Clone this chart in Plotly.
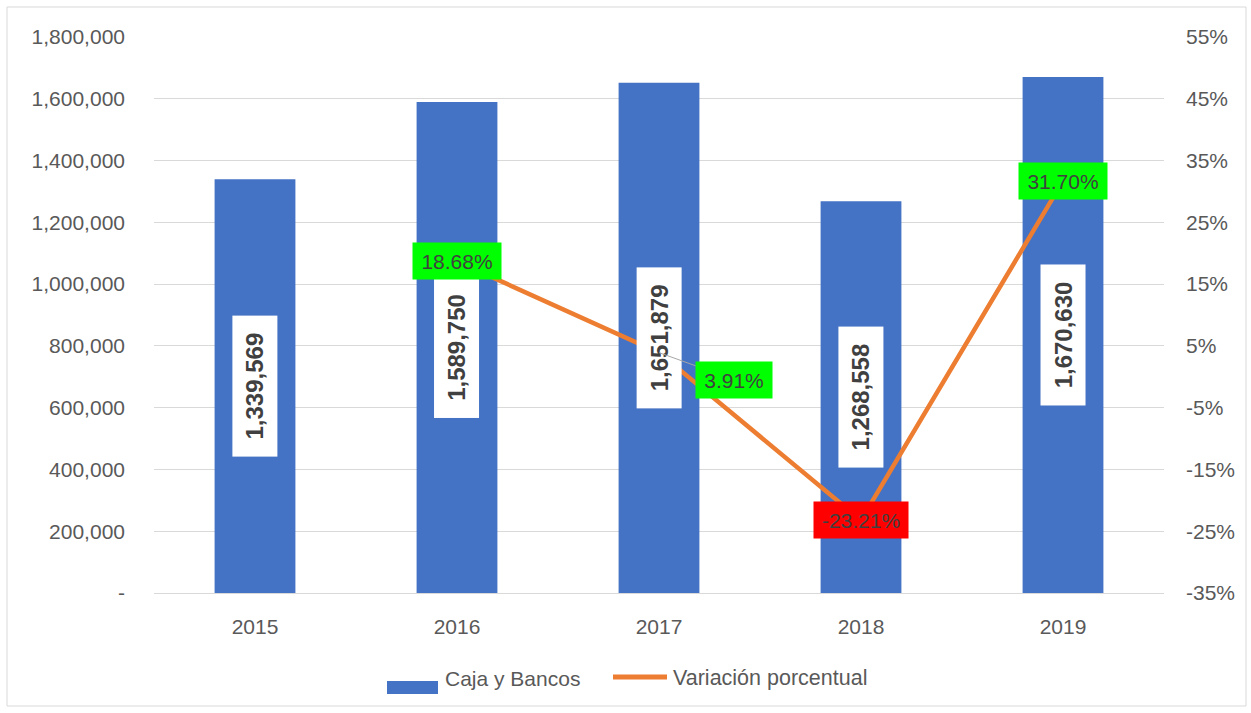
import plotly.graph_objects as go

years = ["2015", "2016", "2017", "2018", "2019"]
caja_bancos = [1339569, 1589750, 1651879, 1268558, 1670630]
bar_labels = ["1,339,569", "1,589,750", "1,651,879", "1,268,558", "1,670,630"]

var_years = ["2016", "2017", "2018", "2019"]
variacion = [18.68, 3.91, -23.21, 31.70]
var_labels = ["18.68%", "3.91%", "-23.21%", "31.70%"]
var_colors = ["#00FF00", "#00FF00", "#FF0000", "#00FF00"]

left_tickvals = [0, 200000, 400000, 600000, 800000, 1000000, 1200000, 1400000, 1600000, 1800000]
left_ticktext = ["-", "200,000", "400,000", "600,000", "800,000", "1,000,000",
                 "1,200,000", "1,400,000", "1,600,000", "1,800,000"]
right_tickvals = [-35, -25, -15, -5, 5, 15, 25, 35, 45, 55]
right_ticktext = ["-35%", "-25%", "-15%", "-5%", "5%", "15%", "25%", "35%", "45%", "55%"]

BLUE = "#4472C4"
ORANGE = "#ED7D31"
GRID = "#D9D9D9"
TXT = "#595959"
FONT = "Liberation Sans, Arial, sans-serif"

fig = go.Figure()
fig.add_trace(go.Bar(x=years, y=caja_bancos, name="Caja y Bancos",
                     marker=dict(color=BLUE, line=dict(width=0)), width=0.4,
                     showlegend=False))
fig.add_trace(go.Scatter(x=var_years, y=variacion, name="Variación porcentual",
                         mode="lines", line=dict(color=ORANGE, width=4.5),
                         yaxis="y2", showlegend=False))

annotations = []
for x, v, t in zip(years, caja_bancos, bar_labels):
    annotations.append(dict(x=years.index(x), y=v / 2, xref="x", yref="y",
                            text="<b>" + t + "</b>",
                            showarrow=False, textangle=-90,
                            font=dict(family=FONT, size=24, color="#404040"),
                            bgcolor="white", borderpad=6, width=128, height=32))

for x, v, t, c in zip(var_years, variacion, var_labels, var_colors):
    w = 84 if t.startswith("-") else (66 if len(t) == 5 else 78)
    xi = years.index(x)
    if x == "2017":
        annotations.append(dict(x=xi, y=v, xref="x", yref="y2", text=t,
                                showarrow=True, arrowhead=0, arrowwidth=1,
                                arrowcolor="#A6A6A6", ax=75, ay=27,
                                font=dict(family=FONT, size=21, color="#404040"),
                                bgcolor=c, borderpad=5, width=w, height=26))
    else:
        annotations.append(dict(x=xi, y=v, xref="x", yref="y2", text=t,
                                showarrow=False,
                                font=dict(family=FONT, size=21, color="#404040"),
                                bgcolor=c, borderpad=5, width=w, height=26))

# legend (drawn manually to match rectangle / line keys)
L, R, T, B = 154, 87, 37, 120
PW, PH = 1251 - L - R, 713 - T - B


def px(xp):
    return (xp - L) / PW


def py(yp):
    return 1 - (yp - T) / PH


shapes = [
    dict(type="rect", xref="paper", yref="paper", x0=px(7), x1=px(1246), y0=py(7), y1=py(706),
         line=dict(color=GRID, width=1), fillcolor="rgba(0,0,0,0)", layer="below"),
    dict(type="rect", xref="paper", yref="paper", x0=px(387), x1=px(438), y0=py(681), y1=py(694),
         line=dict(width=0), fillcolor=BLUE),
    dict(type="line", xref="paper", yref="paper", x0=px(613), x1=px(667), y0=py(677), y1=py(677),
         line=dict(color=ORANGE, width=5)),
]
annotations.append(dict(x=px(443), y=py(678), xref="paper", yref="paper", xanchor="left",
                        yanchor="middle", text="Caja y Bancos", showarrow=False,
                        font=dict(family=FONT, size=21, color=TXT)))
annotations.append(dict(x=px(671), y=py(678), xref="paper", yref="paper", xanchor="left",
                        yanchor="middle", text="Variación porcentual", showarrow=False,
                        font=dict(family=FONT, size=21.5, color=TXT)))

fig.update_layout(
    width=1251, height=713,
    margin=dict(l=L, r=R, t=T, b=B, autoexpand=False),
    paper_bgcolor="white", plot_bgcolor="white",
    font=dict(family=FONT, size=21, color=TXT),
    bargap=0.6,
    xaxis=dict(type="category", categoryorder="array", categoryarray=years,
               range=[-0.5, len(years) - 0.5],
               showgrid=False, showline=False, ticks="", ticklabelstandoff=19,
               tickfont=dict(size=21, color=TXT)),
    yaxis=dict(range=[0, 1800000], tickvals=left_tickvals, ticktext=left_ticktext,
               showgrid=True, gridcolor=GRID, gridwidth=1, zeroline=True,
               zerolinecolor=GRID, zerolinewidth=1, showline=False, ticks="",
               ticklabelstandoff=28, tickfont=dict(size=21, color=TXT)),
    yaxis2=dict(range=[-35, 55], tickvals=right_tickvals, ticktext=right_ticktext,
                overlaying="y", side="right", showgrid=False, zeroline=False,
                showline=False, ticks="", ticklabelstandoff=21,
                tickfont=dict(size=21, color=TXT)),
    annotations=annotations,
    shapes=shapes,
)

fig.write_html("out.html")
